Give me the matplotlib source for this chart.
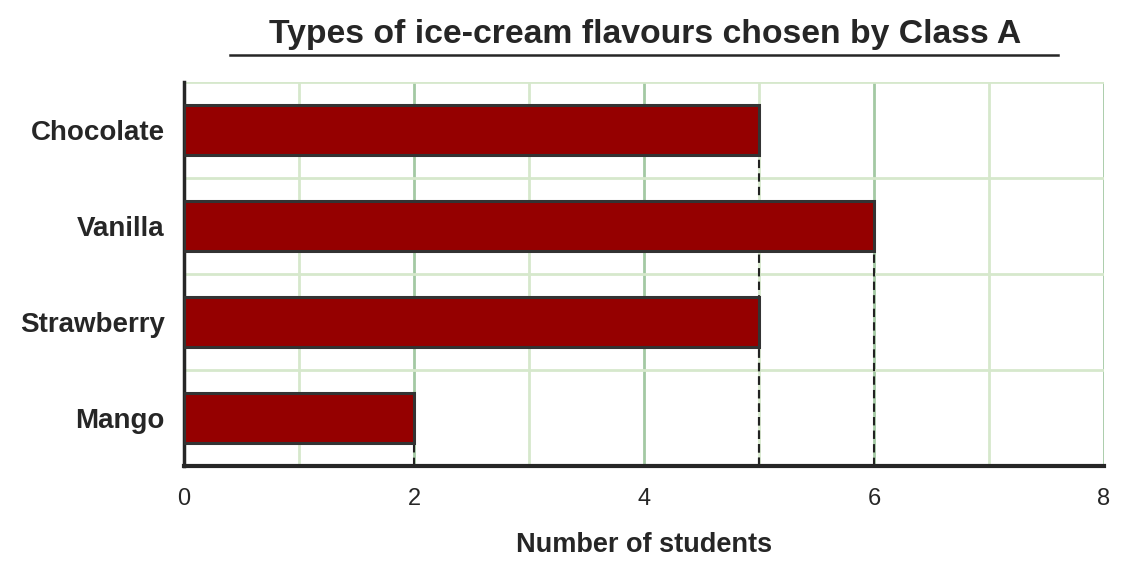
import matplotlib.pyplot as plt
from matplotlib.lines import Line2D

flavours = ['Chocolate', 'Vanilla', 'Strawberry', 'Mango']
students = [5, 6, 5, 2]
xticks = [0, 2, 4, 6, 8]

plt.rcParams['font.family'] = ['Liberation Sans', 'DejaVu Sans']
txt = '#262626'

fig = plt.figure(figsize=(11.29, 5.73), dpi=100)
ax = fig.add_axes([184/1129, 107/573, 920/1129, 384/573])

ypos = list(range(len(flavours)))[::-1]
bar_h = 0.52

# grid: light minor lines at odd values, darker at even
for v in range(1, 9):
    col = '#a3c9a3' if v % 2 == 0 else '#d6e8cc'
    ax.axvline(v, color=col, lw=2, zorder=0)
for b in [0.5, 1.5, 2.5, 3.5]:
    ax.axhline(b, color='#d6e8cc', lw=2, zorder=0)

ax.barh(ypos, students, height=bar_h, color='#950000',
        edgecolor='#333333', linewidth=2.2, zorder=3)

# dashed drop lines from bar end to the axis
for y, v in zip(ypos, students):
    ax.plot([v, v], [-0.5, y - bar_h/2], ls=(0, (4, 2.5)), color='#222222',
            lw=1.5, zorder=2)

ax.set_xlim(0, 8)
ax.set_ylim(-0.5, 3.5)
ax.set_xticks(xticks)
ax.set_xticklabels([str(t) for t in xticks], fontsize=17, color=txt)
ax.set_yticks(ypos)
ax.set_yticklabels(flavours, fontsize=20, fontweight='bold', color=txt)
ax.tick_params(axis='both', length=0)
ax.tick_params(axis='x', pad=16)
ax.tick_params(axis='y', pad=14)

for s in ['top', 'right']:
    ax.spines[s].set_visible(False)
ax.spines['left'].set_linewidth(2.5)
ax.spines['left'].set_color('#262626')
ax.spines['bottom'].set_linewidth(3)
ax.spines['bottom'].set_color('#262626')

ax.set_xlabel('Number of students', fontsize=19.5, fontweight='bold',
              color=txt, labelpad=16)

fig.text(645/1129, 1 - 35/573, 'Types of ice-cream flavours chosen by Class A',
         ha='center', va='center', fontsize=24.3, fontweight='bold', color=txt)
fig.add_artist(Line2D([230/1129, 1058/1129], [1 - 54.5/573, 1 - 54.5/573],
                      color='#262626', lw=1.8))

fig.savefig('out.png', dpi=100)
